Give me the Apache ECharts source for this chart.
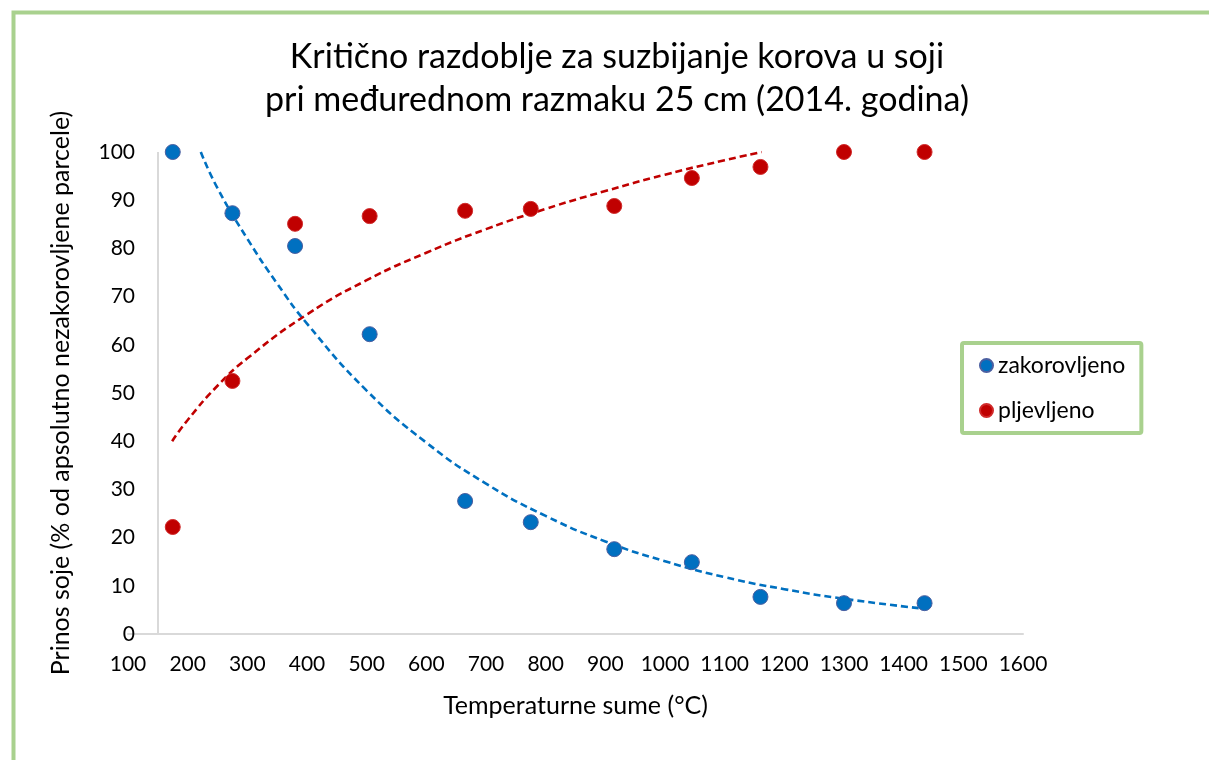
<!DOCTYPE html>
<html>
<head>
<meta charset="utf-8">
<script src="https://cdn.jsdelivr.net/npm/echarts@6/dist/echarts.min.js"></script>
<style>
html,body{margin:0;padding:0;background:#fff;}
#chart{width:1209px;height:760px;}
</style>
</head>
<body>
<div id="chart"></div>
<script>
// ---- data ----
const titleText = 'Kritično razdoblje za suzbijanje korova u soji\npri međurednom razmaku 25 cm (2014. godina)';
const xAxisTitle = 'Temperaturne sume (°C)';
const yAxisTitle = 'Prinos soje (% od apsolutno nezakorovljene parcele)';
const seriesNames = ['zakorovljeno', 'pljevljeno'];

const tempSums = [175, 275, 380, 505, 665, 775, 915, 1045, 1160, 1300, 1435];
const zakorovljeno = [100, 87.3, 80.5, 62.2, 27.6, 23.2, 17.6, 14.9, 7.7, 6.4, 6.4];
const pljevljeno  = [22.2, 52.5, 85.1, 86.7, 87.8, 88.2, 88.8, 94.6, 96.9, 100, 100];

// trendlines
const trendZakX = [222, 250, 300, 350, 400, 500, 600, 700, 800, 900, 1000, 1100, 1200, 1300, 1437];
const trendZakY = [100, 92.5, 82.0, 72.7, 64.4, 50.5, 39.7, 31.2, 24.5, 19.2, 15.1, 11.8, 9.3, 7.3, 5.2];
const trendPljX = [174, 200, 250, 300, 400, 500, 600, 700, 800, 900, 1000, 1100, 1162];
const trendPljY = [40.0, 44.4, 51.5, 57.2, 66.3, 73.4, 79.1, 84.0, 88.2, 91.9, 95.3, 98.3, 100];

const xMin = 100, xMax = 1600, xStep = 100;
const yMin = 0, yMax = 100, yStep = 10;
const yAxisCrossesAt = 150;

// ---- build ----
const zip = (xs, ys) => xs.map((x, i) => [x, ys[i]]);
const FONT = 'Lato';
const BLUE = '#0070c0', RED = '#c00000', GREEN = '#a9d18e', AXIS = '#d9d9d9';

const chart = echarts.init(document.getElementById('chart'));
chart.setOption({
  animation: false,
  backgroundColor: '#fff',
  textStyle: { fontFamily: FONT },
  title: {
    text: titleText,
    left: 612,
    top: 31,
    textAlign: 'center',
    textStyle: { fontFamily: FONT, fontSize: 34, fontWeight: 'normal', color: '#000', lineHeight: 43 }
  },
  graphic: [{
    type: 'rect', left: 11, top: 10, silent: true,
    shape: { width: 1400, height: 1000 },
    style: { fill: 'none', stroke: GREEN, lineWidth: 4 }
  }],
  legend: {
    data: seriesNames,
    orient: 'vertical',
    left: 962, top: 343,
    icon: 'circle', itemWidth: 13, itemHeight: 13, itemGap: 22,
    padding: [11, 16, 11, 17],
    borderColor: GREEN, borderWidth: 4, borderRadius: 2,
    backgroundColor: '#fff',
    textStyle: { fontFamily: FONT, fontSize: 23, color: '#000' }
  },
  grid: { left: 128, right: 186, top: 152, bottom: 126, containLabel: false },
  xAxis: {
    type: 'value', min: xMin, max: xMax, interval: xStep,
    name: xAxisTitle, nameLocation: 'middle', nameGap: 59,
    nameTextStyle: { fontFamily: FONT, fontSize: 25, color: '#000' },
    axisLine: { show: true, onZero: false, lineStyle: { color: AXIS, width: 2 } },
    axisTick: { show: false },
    splitLine: { show: false },
    axisLabel: { fontFamily: FONT, fontSize: 21, color: '#000', margin: 20, formatter: v => String(v) }
  },
  yAxis: {
    type: 'value', min: yMin, max: yMax, interval: yStep,
    name: yAxisTitle, nameLocation: 'middle', nameGap: 55, nameRotate: 90,
    nameTextStyle: { fontFamily: FONT, fontSize: 25, color: '#000' },
    axisLine: { show: false },
    axisTick: { show: false },
    splitLine: { show: false },
    axisLabel: { fontFamily: FONT, fontSize: 21, color: '#000', margin: -7, formatter: v => String(v) }
  },
  series: [
    {
      name: 'trend-zak', type: 'line', data: zip(trendZakX, trendZakY),
      smooth: true, symbol: 'none', silent: true, z: 2,
      lineStyle: { color: BLUE, width: 2.6, type: [7, 4] }
    },
    {
      name: 'trend-plj', type: 'line', data: zip(trendPljX, trendPljY),
      smooth: true, symbol: 'none', silent: true, z: 2,
      lineStyle: { color: RED, width: 2.6, type: [7, 4] }
    },
    {
      name: seriesNames[0], type: 'scatter', data: zip(tempSums, zakorovljeno),
      symbolSize: 15, z: 3,
      itemStyle: { color: BLUE, borderColor: '#4b5fa0', borderWidth: 1, opacity: 1 },
      markLine: {
        silent: true, symbol: 'none', label: { show: false },
        lineStyle: { color: AXIS, width: 2, type: 'solid' },
        data: [[{ coord: [yAxisCrossesAt, yMin] }, { coord: [yAxisCrossesAt, yMax] }]]
      }
    },
    {
      name: seriesNames[1], type: 'scatter', data: zip(tempSums, pljevljeno),
      symbolSize: 15, z: 3,
      itemStyle: { color: RED, borderColor: '#d02a2a', borderWidth: 1, opacity: 1 }
    }
  ]
});
</script>
</body>
</html>
